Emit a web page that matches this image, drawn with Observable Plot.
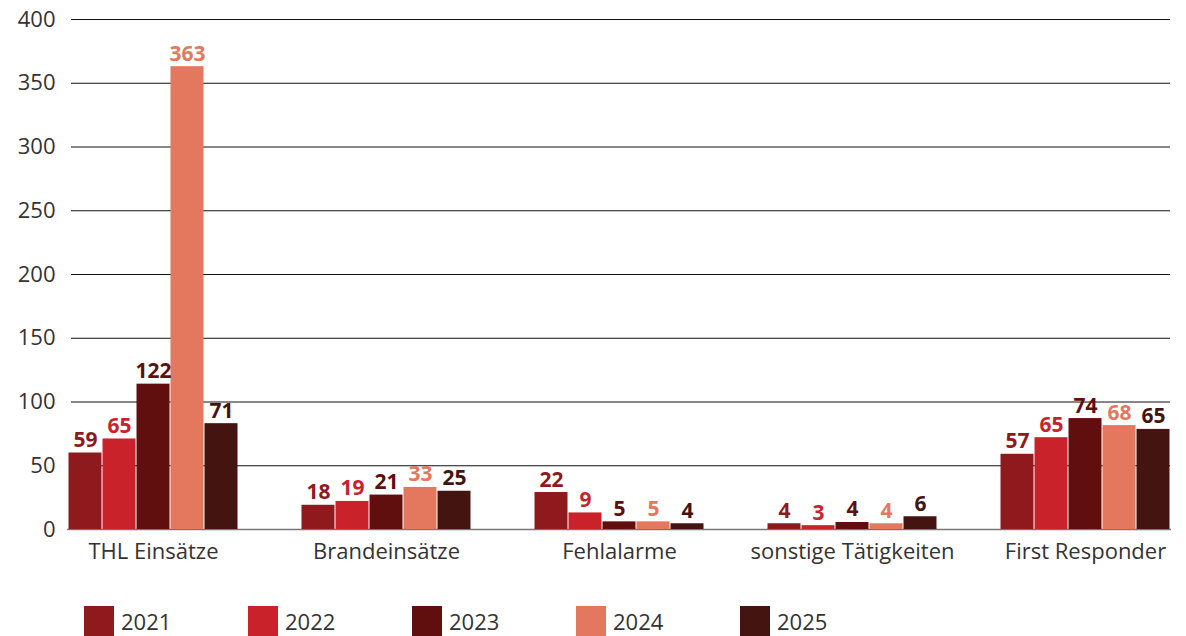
<!DOCTYPE html>
<html>
<head>
<meta charset="utf-8">
<script src="https://cdn.jsdelivr.net/npm/d3@7"></script>
<script src="https://cdn.jsdelivr.net/npm/@observablehq/plot@0.6"></script>
<style>
  html, body { margin: 0; padding: 0; background: #fff; overflow: hidden; }
  #chart { position: relative; width: 1186px; height: 575px; }
  #chart svg { display: block; position: absolute; left: 0; top: 0; }
  .legend { display: flex; margin-top: 31px; margin-left: 84px; font-family: "Open Sans", sans-serif; font-size: 22px; color: #333; }
  .item { display: flex; align-items: center; width: 164px; }
  .sw { width: 30px; height: 30px; margin-right: 7px; }
</style>
</head>
<body>
<div id="chart"></div>
<script>
const categories = ["THL Einsätze", "Brandeinsätze", "Fehlalarme", "sonstige Tätigkeiten", "First Responder"];
const years = ["2021", "2022", "2023", "2024", "2025"];
const colors = ["#8f1a1e", "#c9222b", "#600f0e", "#e4785f", "#431410"];
const yTicks = [0, 50, 100, 150, 200, 250, 300, 350, 400];

// bar heights as drawn
const bars2021 = [60, 19, 29, 4.5, 59];
const bars2022 = [71, 22, 13, 3, 72];
const bars2023 = [114, 27, 6, 5.5, 87];
const bars2024 = [363, 33, 6, 4.5, 81.5];
const bars2025 = [83, 30, 4.5, 10, 78.5];
// printed value labels
const labels2021 = [59, 18, 22, 4, 57];
const labels2022 = [65, 19, 9, 3, 65];
const labels2023 = [122, 21, 5, 4, 74];
const labels2024 = [363, 33, 5, 4, 68];
const labels2025 = [71, 25, 4, 6, 65];

const barSets = [bars2021, bars2022, bars2023, bars2024, bars2025];
const labelSets = [labels2021, labels2022, labels2023, labels2024, labels2025];

const data = [];
categories.forEach((c, ci) => {
  years.forEach((y, yi) => {
    data.push({category: c, year: y, value: barSets[yi][ci], label: String(labelSets[yi][ci])});
  });
});

const font = '"Open Sans", sans-serif';
const common = {
  width: 1186,
  height: 575,
  marginTop: 19,
  marginBottom: 46,
  marginLeft: 67,
  marginRight: 15,
  y: {domain: [0, 400], ticks: yTicks, label: null}
};

// background: grid + y axis across the full frame
const back = Plot.plot({
  ...common,
  style: {fontFamily: font, background: "#fff"},
  marks: [
    Plot.ruleY(yTicks.filter(d => d > 0), {stroke: "#111", strokeWidth: 1, insetLeft: 4, insetRight: 1}),
    Plot.ruleY([0], {stroke: "#777", strokeWidth: 1.5}),
    Plot.axisY({ticks: yTicks, tickSize: 0, tickPadding: 12, fontSize: 22, color: "#333", label: null})
  ]
});

// foreground: grouped bars
const front = Plot.plot({
  ...common,
  style: {fontFamily: font, background: "transparent"},
  fx: {domain: categories, paddingInner: 0.27, paddingOuter: 0, label: null},
  x: {domain: years, padding: 0, axis: null},
  y: {...common.y, axis: null},
  color: {domain: years, range: colors},
  marks: [
    Plot.barY(data, {fx: "category", x: "year", y: "value", fill: "year", insetLeft: 0.5, insetRight: 0.5}),
    Plot.text(data, {fx: "category", x: "year", y: "value", text: "label", fill: "year",
      fontWeight: "bold", fontSize: 21, lineAnchor: "bottom", dy: -6}),
    Plot.axisFx({anchor: "bottom", tickSize: 0, tickPadding: 14, fontSize: 22, color: "#333", label: null})
  ]
});

const holder = document.getElementById("chart");
holder.appendChild(back);
holder.appendChild(front);

const legend = document.createElement("div");
legend.className = "legend";
years.forEach((y, i) => {
  const item = document.createElement("div");
  item.className = "item";
  const sw = document.createElement("div");
  sw.className = "sw";
  sw.style.background = colors[i];
  const t = document.createElement("span");
  t.textContent = y;
  item.appendChild(sw);
  item.appendChild(t);
  legend.appendChild(item);
});
document.body.appendChild(legend);
</script>
</body>
</html>
